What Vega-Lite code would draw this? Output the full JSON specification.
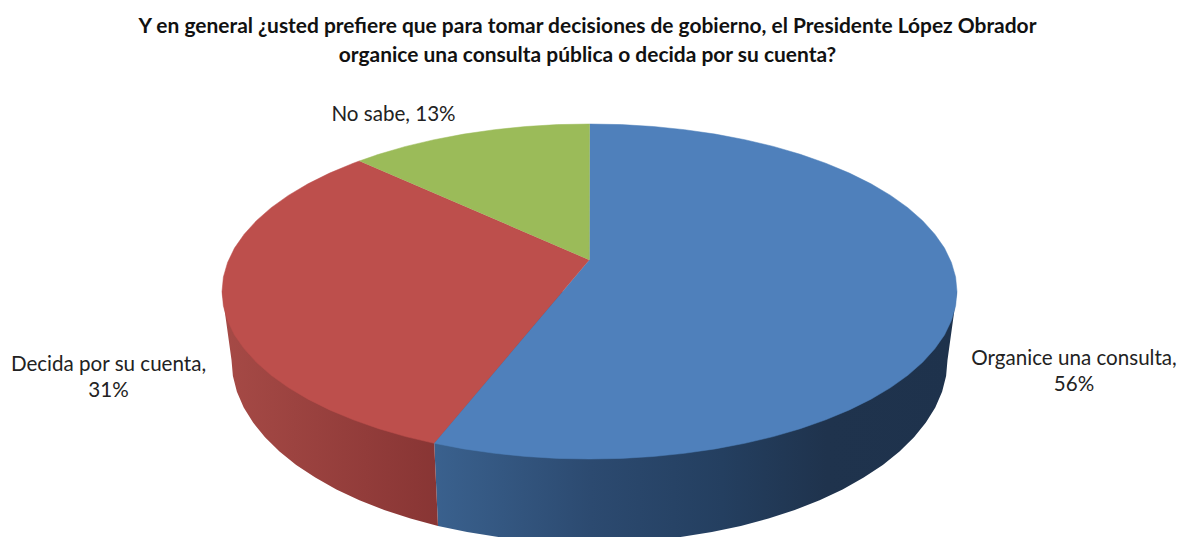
{"$schema":"https://vega.github.io/schema/vega-lite/v6.json","width":1179,"height":537,"padding":0,"autosize":{"type":"none"},"background":"white","view":{"stroke":null},
"title":{"text":["Y en general ¿usted prefiere que para tomar decisiones de gobierno, el Presidente López Obrador","organice una consulta pública o decida por su cuenta?"],"anchor":"middle","font":"Lato","fontWeight":"bold","fontSize":20.95,"lineHeight":29,"color":"#111111","baseline":"top","dy":65.5,"dx":-2,"offset":0},
"datasets":{
"etiquetas":[{"respuesta":"Organice una consulta","pct":56,"texto":"Organice una consulta,\n56%","x":1074,"y":358.5},{"respuesta":"Decida por su cuenta","pct":31,"texto":"Decida por su cuenta,\n31%","x":108.5,"y":364.5},{"respuesta":"No sabe","pct":13,"texto":"No sabe, 13%","x":393.5,"y":115}],
"paredAzul":[{"x":434.2,"y":443.3},{"x":438,"y":525.9},{"x":467.1,"y":532},{"x":496.8,"y":536.8},{"x":527.3,"y":540.2},{"x":558.3,"y":542.3},{"x":589.5,"y":543},{"x":620.7,"y":542.3},{"x":651.7,"y":540.2},{"x":682.2,"y":536.8},{"x":711.9,"y":532},{"x":740.8,"y":525.9},{"x":768.5,"y":518.5},{"x":794.8,"y":509.9},{"x":819.6,"y":500.2},{"x":842.6,"y":489.4},{"x":863.7,"y":477.6},{"x":882.8,"y":465},{"x":899.5,"y":451.5},{"x":914,"y":437.3},{"x":925.9,"y":422.6},{"x":935.3,"y":407.4},{"x":942.1,"y":391.8},{"x":946.1,"y":375.9},{"x":947.5,"y":360},{"x":957,"y":291.5},{"x":434.2,"y":291.5}],
"paredRoja":[{"x":222,"y":291.5},{"x":231.5,"y":360},{"x":232.9,"y":375.9},{"x":236.9,"y":391.8},{"x":243.7,"y":407.4},{"x":253.1,"y":422.6},{"x":265,"y":437.3},{"x":279.5,"y":451.5},{"x":296.2,"y":465},{"x":315.3,"y":477.6},{"x":336.4,"y":489.4},{"x":359.4,"y":500.2},{"x":384.2,"y":509.9},{"x":410.5,"y":518.5},{"x":438,"y":525.9},{"x":434.2,"y":443.3},{"x":434.2,"y":291.5}],
"caraAzul":[{"x":589.5,"y":124},{"x":621.5,"y":124.6},{"x":653.3,"y":126.5},{"x":684.6,"y":129.7},{"x":715.2,"y":134.1},{"x":744.8,"y":139.7},{"x":773.3,"y":146.4},{"x":800.3,"y":154.3},{"x":825.7,"y":163.2},{"x":849.4,"y":173.1},{"x":871,"y":183.8},{"x":890.6,"y":195.4},{"x":907.8,"y":207.7},{"x":922.6,"y":220.7},{"x":934.8,"y":234.2},{"x":944.5,"y":248.1},{"x":951.4,"y":262.4},{"x":955.6,"y":276.9},{"x":957,"y":291.5},{"x":955.6,"y":306.1},{"x":951.4,"y":320.6},{"x":944.5,"y":334.9},{"x":934.8,"y":348.8},{"x":922.6,"y":362.3},{"x":907.8,"y":375.3},{"x":890.6,"y":387.6},{"x":871,"y":399.2},{"x":849.4,"y":409.9},{"x":825.7,"y":419.8},{"x":800.3,"y":428.7},{"x":773.3,"y":436.6},{"x":744.8,"y":443.3},{"x":715.2,"y":448.9},{"x":684.6,"y":453.3},{"x":653.3,"y":456.5},{"x":621.5,"y":458.4},{"x":589.5,"y":459},{"x":557.5,"y":458.4},{"x":525.7,"y":456.5},{"x":494.4,"y":453.3},{"x":463.8,"y":448.9},{"x":434.2,"y":443.3},{"x":589.3,"y":260}],
"caraRoja":[{"x":434.2,"y":443.3},{"x":405.7,"y":436.6},{"x":378.7,"y":428.7},{"x":353.3,"y":419.8},{"x":329.6,"y":409.9},{"x":308,"y":399.2},{"x":288.4,"y":387.6},{"x":271.2,"y":375.3},{"x":256.4,"y":362.3},{"x":244.2,"y":348.8},{"x":234.5,"y":334.9},{"x":227.6,"y":320.6},{"x":223.4,"y":306.1},{"x":222,"y":291.5},{"x":223.4,"y":276.9},{"x":227.6,"y":262.4},{"x":234.5,"y":248.1},{"x":244.2,"y":234.2},{"x":256.4,"y":220.7},{"x":271.2,"y":207.7},{"x":288.4,"y":195.4},{"x":308,"y":183.8},{"x":329.6,"y":173.1},{"x":353.3,"y":163.2},{"x":359.3,"y":161},{"x":589.3,"y":260}],
"caraVerde":[{"x":359.3,"y":161},{"x":378.7,"y":154.3},{"x":405.7,"y":146.4},{"x":434.2,"y":139.7},{"x":463.8,"y":134.1},{"x":494.4,"y":129.7},{"x":525.7,"y":126.5},{"x":557.5,"y":124.6},{"x":589.5,"y":124},{"x":589.3,"y":260}]
},
"encoding":{"x":{"field":"x","type":"quantitative","scale":{"domain":[0,1179]},"axis":null},"y":{"field":"y","type":"quantitative","scale":{"domain":[537,0]},"axis":null}},
"layer":[
{"data":{"name":"paredAzul"},"transform":[{"window":[{"op":"row_number","as":"n"}]}],"mark":{"type":"line","filled":true,"clip":true,"strokeWidth":0,"color":{"gradient":"linear","x1":0,"x2":1,"y1":0,"y2":0,"stops":[{"offset":0,"color":"#3a618e"},{"offset":0.3,"color":"#2c4a70"},{"offset":0.55,"color":"#243f60"},{"offset":0.75,"color":"#1f334d"},{"offset":1,"color":"#1e324c"}]}},"encoding":{"order":{"field":"n"}}},
{"data":{"name":"paredRoja"},"transform":[{"window":[{"op":"row_number","as":"n"}]}],"mark":{"type":"line","filled":true,"clip":true,"strokeWidth":0,"color":{"gradient":"linear","x1":0,"x2":1,"y1":0,"y2":0,"stops":[{"offset":0,"color":"#a64a46"},{"offset":1,"color":"#883534"}]}},"encoding":{"order":{"field":"n"}}},
{"data":{"name":"caraAzul"},"transform":[{"window":[{"op":"row_number","as":"n"}]}],"mark":{"type":"line","filled":true,"strokeWidth":0.5,"fill":"#4f80bb","stroke":"#4f80bb"},"encoding":{"order":{"field":"n"}}},
{"data":{"name":"caraRoja"},"transform":[{"window":[{"op":"row_number","as":"n"}]}],"mark":{"type":"line","filled":true,"strokeWidth":0.5,"fill":"#bd4f4c","stroke":"#bd4f4c"},"encoding":{"order":{"field":"n"}}},
{"data":{"name":"caraVerde"},"transform":[{"window":[{"op":"row_number","as":"n"}]}],"mark":{"type":"line","filled":true,"strokeWidth":0.5,"fill":"#9bbb59","stroke":"#9bbb59"},"encoding":{"order":{"field":"n"}}},
{"data":{"name":"etiquetas"},"mark":{"type":"text","font":"Lato","fontSize":20.6,"lineHeight":26,"lineBreak":"\n","align":"center","baseline":"middle","color":"#222222"},"encoding":{"text":{"field":"texto"}}}
]}
